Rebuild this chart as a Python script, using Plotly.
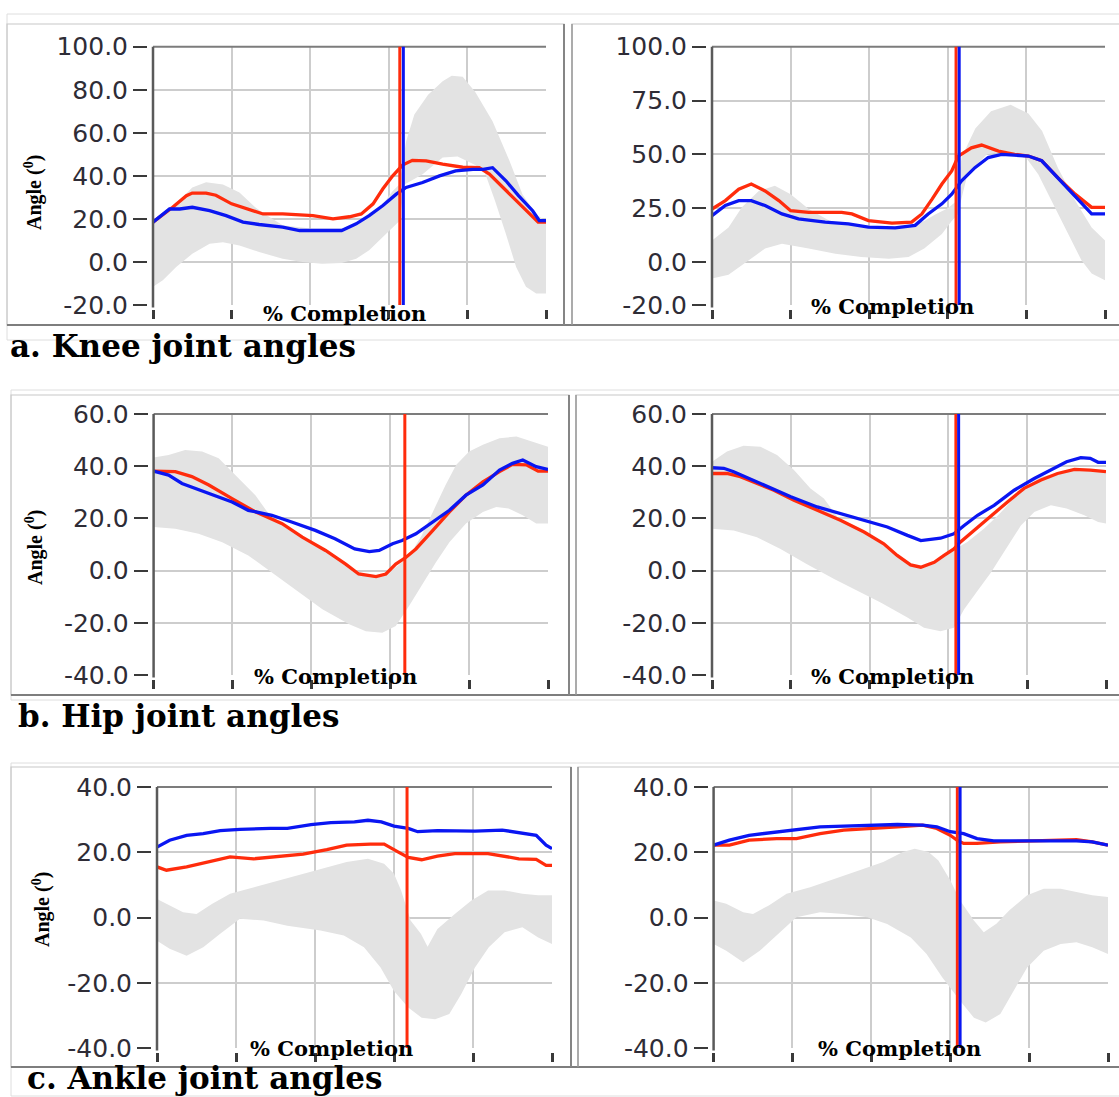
import plotly.graph_objects as go

# ------------------------------------------------------------------ data
PCT_TICKS = [0, 20, 40, 60, 80, 100]
KNEE_TICKS_L = [-20, 0, 20, 40, 60, 80, 100]
KNEE_TICKS_R = [-20, 0, 25, 50, 75, 100]
HIP_TICKS = [-40, -20, 0, 20, 40, 60]
ANKLE_TICKS = [-40, -20, 0, 20, 40]

CAPTIONS = ["a. Knee joint angles", "b. Hip joint angles", "c. Ankle joint angles"]
X_LABEL = "% Completion"
Y_LABEL = "Angle (<sup>0</sup>)"

# (percent completion, angle) pairs
KNEE_L_RED = [(0, 18.5), (5, 25.4), (8.5, 30.8), (10, 32), (13.5, 32), (16, 31), (20, 27), (25, 24),
              (28, 22.3), (33, 22.3), (37, 22), (40.7, 21.5), (45.8, 20), (50, 21), (53, 22.3), (56, 27),
              (58.5, 34), (61, 40), (63.5, 45), (66, 47.2), (69.5, 47), (73.7, 45.4), (78.8, 44), (83, 43.8),
              (85.6, 40.8), (89, 34.6), (92.4, 28.5), (95.8, 22.3), (98, 18.5), (100, 18.5)]
KNEE_L_BLUE = [(0, 18.5), (4.2, 24.6), (6.8, 24.6), (10, 25.4), (14.4, 23.8), (18.6, 21.5), (22.9, 18.5),
               (27, 17.4), (33, 16.2), (37.3, 14.6), (41.5, 14.6), (48, 14.6), (51.7, 17.7), (55, 21.5),
               (58.5, 26.2), (61.9, 31.5), (64.4, 34.6), (68.6, 36.9), (72.9, 40), (77, 42.3), (81.4, 43),
               (84, 43), (86.4, 43.8), (89.8, 37.7), (93, 30.8), (96.6, 23.8), (98.3, 19.2), (100, 19.2)]
KNEE_L_UP = [(0, 18.5), (4.2, 24), (10, 34.6), (13.5, 37), (17.8, 36), (22, 32.3), (26, 25.4), (28.4, 22.3),
             (33, 17), (40, 15.5), (48, 15.5), (52, 17), (55, 21), (58.5, 27), (61, 33), (62.7, 36),
             (64.4, 56), (66.5, 68.5), (70, 77.7), (73.7, 84), (76, 86.5), (78.8, 86), (82, 79),
             (86.4, 65.4), (90.7, 47), (94, 31.5), (97.5, 22), (100, 19)]
KNEE_L_LO = [(0, -11.5), (2.5, -8.5), (5.9, -2.3), (10, 3.8), (14.4, 8.5), (17.8, 9.2), (22, 7.7), (27, 4.6),
             (33, 1.5), (38, 0), (43, -0.8), (48, -0.5), (51.7, 1.5), (55, 5.4), (58.5, 11.5), (61, 16),
             (62.7, 19), (64, 36), (68.6, 40.8), (73.7, 48.5), (77.5, 49), (82, 45), (84.3, 42.3),
             (87, 28.5), (89.8, 13), (92.4, -2.3), (94.9, -11.5), (97.5, -14.6), (100, -14.6)]

KNEE_R_RED = [(0, 24.6), (3.4, 28.5), (6.8, 33.8), (10, 36.2), (13.5, 33), (17, 28.5), (20, 23.8), (24.6, 23),
              (33, 23), (35.6, 22.3), (39.8, 19.2), (45.8, 18), (50.8, 18.5), (53.4, 22.3), (56, 29.2),
              (58.5, 36.2), (61, 42.3), (62.7, 49.2), (66, 53), (68.6, 54.3), (72.9, 51.5), (77, 50),
              (80.5, 49.2), (83.9, 47), (88, 39.2), (92.4, 31.5), (96.6, 25.4), (100, 25.4)]
KNEE_R_BLUE = [(0, 21.5), (3.4, 26.2), (6.8, 28.5), (10, 28.5), (13.5, 26.2), (17.8, 22.3), (22, 20),
               (28.8, 18.5), (34.7, 17.7), (39.8, 16.2), (46.6, 15.8), (51.7, 17), (55, 22.3), (58.5, 27),
               (61, 31.5), (63.5, 37.7), (66.9, 43.8), (70.3, 48.5), (73.7, 50), (80.5, 49.2), (83.9, 47),
               (88, 39.2), (92.4, 30.8), (96.6, 22.3), (100, 22.3)]
KNEE_R_UP = [(0, 10), (4.2, 16), (7.6, 25.4), (11.9, 33), (16, 35.4), (20, 31.5), (24.6, 24.6), (30, 19),
             (40, 16.5), (50, 16.5), (54, 19), (56.8, 22), (60, 25), (62, 28), (63.5, 48.5), (67, 62),
             (71, 70), (76, 73), (80.5, 69), (84, 60.8), (88, 43.8), (92.4, 28.5), (96.6, 16), (100, 10)]
KNEE_R_LO = [(0, -7.7), (4.2, -6), (9.3, 0.8), (13.5, 6.2), (17.8, 8.5), (24.6, 6.2), (31.4, 3.8), (38, 2.3),
             (45, 1.5), (50, 2.3), (54, 6.2), (58.5, 13), (61, 19), (62.5, 22), (65, 40.8), (70, 50),
             (75, 51.5), (79.7, 49), (83, 40.8), (86.4, 28.5), (90.7, 13), (94, 0.8), (96.6, -5.4), (100, -8.5)]

HIP_L_RED = [(0, 38.1), (5.5, 37.9), (9.7, 36), (14, 32.8), (19.9, 27.6), (25.8, 22.5), (32.6, 18),
             (37.7, 12.8), (43.6, 7.7), (48.7, 2.5), (52, -1.3), (56.4, -2.3), (58.9, -1.3), (61.4, 2.5),
             (64, 5.1), (66.5, 8.3), (70.8, 15.4), (75, 22.5), (79.2, 28.9), (83.5, 34), (87.7, 37.9),
             (91, 40.7), (94.5, 40.5), (97.5, 38.1), (100, 38.1)]
HIP_L_BLUE = [(0, 38.1), (3.8, 36.6), (7.2, 33.4), (14, 29.5), (19.9, 26.3), (24, 23.1), (30, 21.2),
              (35, 18.6), (41, 15.4), (46, 12.2), (51, 8.3), (54.7, 7.3), (57.2, 7.7), (60.6, 10.3),
              (63, 11.5), (66.5, 14.1), (70.8, 18.6), (75, 23.1), (79.2, 28.9), (83.5, 32.8), (87.7, 38.5),
              (91, 41.1), (93.6, 42.4), (97, 39.8), (100, 38.8)]
HIP_L_UP = [(0, 43.3), (3.8, 44.3), (8, 46.2), (12.3, 45.6), (16.5, 43), (20.8, 36.6), (25.8, 28.9),
            (30, 20), (35, 15.5), (40, 10.5), (45, 6), (50, 1), (55, -2.5), (59, -1.5), (62, 2), (65, 6),
            (68, 13.5), (71.6, 25), (74, 32.7), (76.7, 40.5), (80, 45.6), (83.5, 48.2), (87.7, 50.7),
            (92, 51.4), (96, 49.5), (100, 47.5)]
HIP_L_LO = [(0, 16.7), (5.5, 16), (11.4, 14.1), (17.4, 10.9), (24, 5.8), (31, -2), (36.9, -8.4),
            (42.8, -14.8), (49.6, -20.6), (53.8, -23.2), (58, -23.8), (61.4, -21.2), (64.8, -13.5),
            (68.2, -5.2), (71.6, 3.2), (75, 10.9), (79.2, 18), (83.5, 22.5), (86.9, 24.4), (90, 23.8),
            (93.6, 21.2), (97, 18), (100, 18)]

HIP_R_RED = [(0, 37.2), (3.8, 37.2), (7.2, 36), (11.4, 33.4), (15.7, 30.8), (20.8, 27), (26.7, 23.1),
             (32.6, 19.3), (38.6, 14.8), (43.6, 10.3), (47, 5.8), (50.4, 2.2), (53, 1.3), (56.4, 3.2),
             (58.9, 5.8), (61.4, 8.3), (63, 10.9), (66.5, 15.4), (70.8, 21.2), (75, 26.3), (79.2, 31.5),
             (83.5, 34.7), (87.7, 37.2), (92, 38.8), (96, 38.5), (100, 37.9)]
HIP_R_BLUE = [(0, 39.4), (3, 39.2), (5.5, 37.9), (11.4, 34), (20, 28.3), (26.7, 24.4), (32.6, 21.8),
              (38.6, 19.3), (44.5, 16.7), (49.6, 13.5), (53, 11.5), (58, 12.4), (61.4, 14.1), (64, 17.3),
              (67.4, 21.2), (71.6, 25), (76.7, 30.8), (81.8, 35.3), (86, 38.5), (90, 41.7), (93.6, 43.3),
              (96, 43), (98, 41.5), (100, 41.5)]
HIP_R_UP = [(0, 41.7), (3.8, 45.6), (8, 47.8), (12.3, 47.5), (16.5, 44.3), (20.8, 38.5), (25, 31.5),
            (28.4, 27.6), (32.6, 19), (38.6, 14.5), (43.6, 10), (47, 5.5), (50.4, 2), (53, 1), (56.4, 3),
            (61.4, 8), (64.8, 11), (69, 16), (72.5, 21), (75, 25), (79, 31.5), (83.5, 36), (87.7, 37.2),
            (92, 38.5), (96, 38.2), (100, 37.5)]
HIP_R_LO = [(0, 16), (5.5, 15.4), (11.4, 12.8), (17.4, 8.3), (24, 2.5), (31, -3.2), (36.9, -7.7),
            (42.8, -12.2), (49.6, -18), (53.8, -21.9), (58, -23.2), (61.4, -21.9), (64, -14.8),
            (67.4, -7.7), (70.8, -0.7), (74, 7), (78.4, 17.3), (81.8, 22.5), (86, 25), (90, 23.8),
            (94.5, 21.2), (98, 18.6), (100, 18)]

ANKLE_L_RED = [(0, 15.5), (2.4, 14.5), (7.5, 15.5), (12.6, 17), (18.5, 18.6), (24.5, 18), (31, 18.8),
               (37, 19.4), (43, 20.8), (48, 22.2), (54, 22.5), (57.5, 22.5), (61, 20.1), (63.6, 18.4),
               (67, 17.7), (71, 18.8), (75.4, 19.6), (83.8, 19.6), (91.6, 18), (96, 17.8), (98.5, 16),
               (100, 16)]
ANKLE_L_BLUE = [(0, 21.6), (3.2, 23.7), (7.5, 25.2), (11.7, 25.7), (16, 26.6), (21, 27), (28.7, 27.3),
                (33, 27.3), (39, 28.5), (44, 29.1), (50, 29.3), (53.4, 29.8), (56.8, 29.3), (60, 28),
                (63.6, 27.3), (66, 26.3), (71, 26.6), (75.4, 26.5), (80.5, 26.5), (87.4, 26.8), (92.5, 26),
                (96, 25.2), (98.5, 22.2), (100, 21.1)]
ANKLE_L_UP = [(0, 5.7), (3.2, 3.7), (6.6, 1.6), (10, 1.1), (14, 4.2), (18.5, 7.3), (24.5, 9.3), (31, 11.4),
              (37, 13.4), (43, 15.5), (48, 17), (53.4, 18), (57.5, 16.5), (60, 13.4), (61.8, 8.3),
              (64.2, -0.9), (66.8, -5), (68.5, -9), (71, -3.5), (75.4, 1.1), (79.6, 5.2), (83.8, 8.3),
              (88, 8.3), (92.5, 7.3), (96.5, 6.8), (100, 6.8)]
ANKLE_L_LO = [(0, -7.1), (3.2, -9.6), (7.5, -11.7), (11.7, -9.1), (16, -5), (21, -0.4), (27, -0.9),
              (33, -2.5), (41.4, -4), (47.3, -5.5), (52.4, -9.1), (56.6, -15.3), (60, -22.5), (63.6, -27.6),
              (67, -30.7), (70.4, -31.2), (74, -29.6), (77, -23.5), (80.5, -15.3), (84, -9.1), (88, -4.5),
              (92.5, -3), (96.5, -6.1), (100, -8.1)]

ANKLE_R_RED = [(0, 22.2), (4, 22.2), (9, 23.7), (16, 24.2), (21, 24.2), (27, 25.7), (33, 26.8),
               (41.5, 27.3), (46.6, 27.8), (53, 28.3), (56.6, 27.3), (60, 25.2), (61.7, 23.7), (63.4, 22.7),
               (66.8, 22.7), (72.7, 23.2), (79.5, 23.5), (83.7, 23.7), (92, 23.9), (96, 23.2), (100, 22.2)]
ANKLE_R_BLUE = [(0, 22.2), (4, 23.7), (9, 25.2), (16, 26.3), (21, 27), (27, 27.8), (33, 28), (41.5, 28.3),
                (46.6, 28.5), (53, 28.3), (56.6, 27.8), (60, 26.3), (63.4, 25.7), (66.8, 24.2), (71, 23.5),
                (79.5, 23.5), (92, 23.5), (96, 23.2), (100, 22.2)]
ANKLE_R_UP = [(0, 5.2), (3.2, 4.2), (7.5, 1.6), (10, 1.1), (14, 3.7), (18.5, 7.3), (24.5, 9.3), (31, 11.9),
              (37, 14.5), (43, 17), (48, 20.1), (51, 21.1), (54.5, 20.1), (57, 17.5), (60, 11.4),
              (62.5, 5.2), (66, -0.9), (68.5, -4.5), (71.7, -1.9), (75, 2.2), (79.5, 6.8), (83.7, 8.8),
              (88, 8.8), (92, 7.8), (96, 6.8), (100, 6.3)]
ANKLE_R_LO = [(0, -8.1), (3.2, -10.2), (7.5, -13.7), (11.7, -10.2), (16, -5.5), (21, 0.1), (27, 1.6),
              (33, 1.1), (39, 0.1), (44, -2), (50, -6.1), (54, -11.2), (58, -18.4), (62.5, -25.5),
              (66, -30.7), (69, -32.2), (72.7, -29.6), (76, -22.5), (79.5, -15.3), (83.7, -10.2),
              (88, -8.1), (92, -7.6), (96, -9.1), (100, -11.2)]

# toe-off event markers (% completion) per panel: knee L/R, hip L/R, ankle L/R
EVENT_RED = [62.8, 62.1, 63.7, 61.9, 63.3, 61.8]
EVENT_BLUE = [63.7, 62.9, None, 62.6, None, 62.5]

# ------------------------------------------------------------------ styling / layout
W, H = 1119, 1097
RED = "#ff2c0c"
BLUE = "#0a16f2"
BAND = "#e3e3e3"
GRID = "#cdcdcd"


def fx(px):
    return px / W


def fy(py):
    return 1 - py / H


# pixel geometry of each plot area: x0, x1, y_top, y_bottom
panels = [
    dict(red=KNEE_L_RED, blue=KNEE_L_BLUE, up=KNEE_L_UP, lo=KNEE_L_LO, ticks=KNEE_TICKS_L,
         geo=(153, 546, 46.7, 305), xl=(344, 313), yl=(34, 193)),
    dict(red=KNEE_R_RED, blue=KNEE_R_BLUE, up=KNEE_R_UP, lo=KNEE_R_LO, ticks=KNEE_TICKS_R,
         geo=(712, 1105, 46.7, 305), xl=(892, 306), yl=None),
    dict(red=HIP_L_RED, blue=HIP_L_BLUE, up=HIP_L_UP, lo=HIP_L_LO, ticks=HIP_TICKS,
         geo=(153.6, 548, 414, 675), xl=(335, 676), yl=(34, 548)),
    dict(red=HIP_R_RED, blue=HIP_R_BLUE, up=HIP_R_UP, lo=HIP_R_LO, ticks=HIP_TICKS,
         geo=(712, 1106, 414, 675), xl=(892, 676), yl=None),
    dict(red=ANKLE_L_RED, blue=ANKLE_L_BLUE, up=ANKLE_L_UP, lo=ANKLE_L_LO, ticks=ANKLE_TICKS,
         geo=(157, 552, 787, 1048), xl=(331, 1048), yl=(41, 910)),
    dict(red=ANKLE_R_RED, blue=ANKLE_R_BLUE, up=ANKLE_R_UP, lo=ANKLE_R_LO, ticks=ANKLE_TICKS,
         geo=(713.6, 1108, 787, 1048), xl=(899, 1048), yl=None),
]

fig = go.Figure()
layout = dict(template="none", width=W, height=H, autosize=False,
              margin=dict(l=0, r=0, t=0, b=0, pad=0, autoexpand=False),
              paper_bgcolor="white", plot_bgcolor="white", showlegend=False)
shapes = []
annotations = []

for i, p in enumerate(panels, start=1):
    sfx = "" if i == 1 else str(i)
    xa, ya = "x" + sfx, "y" + sfx
    x0, x1, yt, yb = p["geo"]
    ticks = p["ticks"]

    up_x = [a for a, _ in p["up"]]
    up_y = [b for _, b in p["up"]]
    lo_x = [a for a, _ in p["lo"]]
    lo_y = [b for _, b in p["lo"]]
    fig.add_trace(go.Scatter(x=up_x + lo_x[::-1], y=up_y + lo_y[::-1], fill="toself",
                             fillcolor=BAND, line=dict(width=0), mode="lines",
                             hoverinfo="skip", xaxis=xa, yaxis=ya))
    for series, col in ((p["red"], RED), (p["blue"], BLUE)):
        fig.add_trace(go.Scatter(x=[a for a, _ in series], y=[b for _, b in series], mode="lines",
                                 line=dict(color=col, width=3.3), xaxis=xa, yaxis=ya))

    layout["xaxis" + sfx] = dict(domain=[fx(x0), fx(x1)], range=[0, 100], anchor="free",
                                 position=fy(yb + 4), tickmode="array", tickvals=PCT_TICKS,
                                 showticklabels=False, ticks="outside", ticklen=9, tickwidth=2.5,
                                 tickcolor="#3a3a3a", showgrid=True, gridcolor=GRID, gridwidth=2,
                                 showline=False, zeroline=False, fixedrange=True, automargin=False)
    layout["yaxis" + sfx] = dict(domain=[fy(yb), fy(yt)], range=[min(ticks), max(ticks)], anchor="free",
                                 position=fx(x0 - 6), tickmode="array", tickvals=ticks,
                                 ticktext=[f"{t:.1f}" for t in ticks], ticks="outside", ticklen=14,
                                 tickwidth=2, tickcolor="#3a3a3a",
                                 tickfont=dict(family="DejaVu Sans", size=25, color="#2e2c36"),
                                 showgrid=True, gridcolor=GRID, gridwidth=2, showline=False,
                                 zeroline=False, fixedrange=True, automargin=False)

    # plot frame lines (top border, left axis)
    shapes.append(dict(type="line", xref=f"{xa} domain", yref=f"{ya} domain", x0=0, x1=1, y0=1, y1=1,
                       line=dict(color="#7c7c7c", width=2), layer="above"))
    shapes.append(dict(type="line", xref=f"{xa} domain", yref=f"{ya} domain", x0=0, x1=0, y0=-0.01, y1=1,
                       line=dict(color="#5a5a5a", width=2.5), layer="above"))
    # event markers
    shapes.append(dict(type="line", xref=xa, yref=f"{ya} domain", x0=EVENT_RED[i - 1], x1=EVENT_RED[i - 1],
                       y0=0, y1=1, line=dict(color=RED, width=3), layer="above"))
    if EVENT_BLUE[i - 1] is not None:
        shapes.append(dict(type="line", xref=xa, yref=f"{ya} domain", x0=EVENT_BLUE[i - 1],
                           x1=EVENT_BLUE[i - 1], y0=0, y1=1, line=dict(color=BLUE, width=3), layer="above"))

    annotations.append(dict(text=f"<b>{X_LABEL}</b>", xref="paper", yref="paper",
                            x=fx(p["xl"][0]), y=fy(p["xl"][1]), xanchor="center", yanchor="middle",
                            showarrow=False, font=dict(family="DejaVu Serif", size=21, color="black")))
    if p["yl"] is not None:
        annotations.append(dict(text=f"<b>{Y_LABEL}</b>", xref="paper", yref="paper", textangle=-90,
                                x=fx(p["yl"][0]), y=fy(p["yl"][1]), xanchor="center", yanchor="middle",
                                showarrow=False,
                                font=dict(family="Liberation Serif", size=20, color="black")))

# captions
for text, (cx, cy) in zip(CAPTIONS, [(9, 346), (17, 716), (26, 1078)]):
    annotations.append(dict(text=f"<b>{text}</b>", xref="paper", yref="paper", x=fx(cx), y=fy(cy),
                            xanchor="left", yanchor="middle", showarrow=False, borderpad=0,
                            font=dict(family="DejaVu Serif", size=31, color="black")))


# panel frames (paper pixels)
def rect(x0, y0, x1, y1, color, width):
    return dict(type="rect", xref="paper", yref="paper", x0=fx(x0), x1=fx(x1), y0=fy(y1), y1=fy(y0),
                line=dict(color=color, width=width), fillcolor="rgba(0,0,0,0)", layer="below")


def hline(x0, x1, y, color, width):
    return dict(type="line", xref="paper", yref="paper", x0=fx(x0), x1=fx(x1), y0=fy(y), y1=fy(y),
                line=dict(color=color, width=width), layer="below")


def vline(x, y0, y1, color, width):
    return dict(type="line", xref="paper", yref="paper", x0=fx(x), x1=fx(x), y0=fy(y0), y1=fy(y1),
                line=dict(color=color, width=width), layer="below")


rows = [  # outer top, outer bottom, panel top, panel bottom, left x, left-panel right, right-panel left
    (14, 340, 24, 325, 7, 564, 572),
    (390, 700, 395, 695, 11, 569, 576),
    (763, 1096, 767, 1067, 11, 571, 578),
]
for ot, ob, pt, pb, lx, lr, rl in rows:
    shapes.append(rect(lx, ot, 1125, ob, "#dedede", 1))
    shapes.append(rect(lx, pt, lr, pb, "#c8c8c8", 1.2))
    shapes.append(rect(rl, pt, 1125, pb, "#c8c8c8", 1.2))
    shapes.append(hline(lx, 1125, pb, "#7e7e7e", 2.2))
    shapes.append(vline(lr, pt, pb, "#858585", 2))
    shapes.append(vline(rl, pt, pb, "#9a9a9a", 1.5))

layout["shapes"] = shapes
layout["annotations"] = annotations
fig.update_layout(**layout)

fig.write_html("out.html", config={"displayModeBar": False},
               post_script="document.body.style.margin='0';document.body.style.overflow='hidden';")
